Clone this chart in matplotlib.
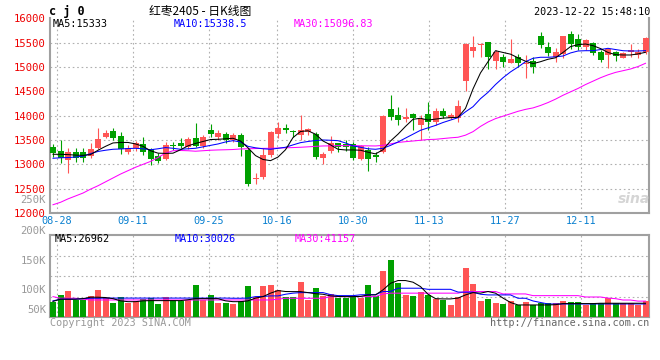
import matplotlib
matplotlib.use("Agg")
import matplotlib.pyplot as plt
import numpy as np

plt.rcParams["font.family"] = ["DejaVu Sans Mono"]

# x axis date labels and the candle index they belong to
date_labels = ["08-28", "09-11", "09-25", "10-16", "10-30", "11-13", "11-27", "12-11"]
date_idx = [1, 11, 21, 30, 40, 50, 60, 70]

# daily OHLC, 80 sessions (08-25 .. 12-22)
opens = [13351, 13281, 13090, 13248, 13248, 13178, 13343, 13563, 13692, 13590,
         13248, 13341, 13409, 13310, 13172, 13117, 13392, 13446, 13351, 13536,
         13384, 13707, 13557, 13624, 13501, 13604, 13296, 12689, 12735, 13193,
         13624, 13742, 13692, 13604, 13672, 13624, 13131, 13281, 13433, 13419,
         13419, 13104, 13296, 13193, 13261, 14138, 14015, 13926, 14035, 13809,
         14035, 13877, 14097, 13947, 13947, 14720, 15336, 15447, 15515, 15131,
         15213, 15090, 15201, 15053, 15131, 15638, 15418, 15201, 15268, 15673,
         15577, 15418, 15488, 15316, 15248, 15303, 15192, 15303, 15248, 15303]
highs = [13410, 13501, 13331, 13331, 13331, 13430, 13742, 13713, 13742, 13659,
         13398, 13490, 13553, 13337, 13228, 13466, 13466, 13536, 13569, 13857,
         13604, 13824, 13707, 13672, 13651, 13651, 13331, 12829, 13331, 13692,
         13877, 13830, 13713, 14015, 13754, 13659, 13261, 13583, 13446, 13501,
         13466, 13398, 13364, 13261, 14015, 14426, 14185, 14153, 14062, 14015,
         14288, 14153, 14153, 14049, 14323, 15488, 15638, 15490, 15515, 15350,
         15268, 15570, 15268, 15248, 15213, 15727, 15521, 15385, 15638, 15741,
         15673, 15577, 15521, 15350, 15385, 15330, 15316, 15468, 15371, 15624]
lows = [13150, 13022, 12829, 13055, 13043, 13125, 13306, 13536, 13491, 13203,
        13207, 13275, 13183, 12987, 13022, 13090, 13296, 13331, 13310, 13347,
        13331, 13557, 13501, 13446, 13460, 13172, 12556, 12597, 12693, 13158,
        13536, 13639, 13557, 13501, 13604, 13111, 13008, 13240, 13261, 13281,
        13090, 13090, 12870, 13055, 13228, 13912, 13809, 13877, 13707, 13501,
        13707, 13809, 13947, 13926, 13877, 14514, 15213, 15213, 14954, 14954,
        15007, 15077, 15007, 14769, 14872, 15385, 15227, 15110, 15180, 15371,
        15350, 15350, 15248, 15110, 14987, 15125, 15180, 15213, 15192, 15262]
closes = [13225, 13121, 13248, 13125, 13137, 13316, 13522, 13651, 13536, 13316,
          13343, 13438, 13244, 13104, 13076, 13398, 13372, 13378, 13522, 13378,
          13569, 13624, 13651, 13501, 13604, 13351, 12597, 12710, 13193, 13672,
          13754, 13713, 13659, 13707, 13727, 13158, 13213, 13433, 13364, 13351,
          13125, 13378, 13117, 13158, 13994, 13980, 13912, 13980, 13947, 13926,
          13877, 14103, 13994, 14015, 14200, 15474, 15406, 15474, 15201, 15316,
          15110, 15160, 15090, 15077, 15007, 15453, 15283, 15316, 15638, 15468,
          15418, 15550, 15283, 15145, 15371, 15233, 15283, 15350, 15303, 15603]

# price moving averages as drawn
ma5 = [13207, 13207, 13200, 13190, 13185, 13200, 13290, 13370, 13440, 13450,
       13450, 13420, 13370, 13280, 13230, 13225, 13230, 13300, 13380, 13430,
       13470, 13510, 13515, 13525, 13536, 13480, 13340, 13180, 13100, 13076,
       13150, 13300, 13550, 13675, 13690, 13620, 13480, 13400, 13310, 13296,
       13296, 13290, 13250, 13215, 13300, 13480, 13620, 13780, 13926, 13947,
       13910, 13930, 13950, 13960, 13968, 14150, 14550, 14880, 15110, 15336,
       15300, 15265, 15190, 15120, 15070, 15110, 15160, 15190, 15300, 15420,
       15460, 15474, 15440, 15380, 15300, 15255, 15248, 15248, 15270, 15303]
ma10 = [13125, 13135, 13140, 13150, 13170, 13220, 13265, 13290, 13310, 13316,
        13325, 13330, 13320, 13300, 13320, 13345, 13330, 13310, 13320, 13330,
        13360, 13390, 13419, 13460, 13487, 13460, 13370, 13340, 13320, 13310,
        13330, 13351, 13400, 13446, 13470, 13490, 13501, 13495, 13487, 13440,
        13380, 13351, 13320, 13310, 13330, 13390, 13460, 13540, 13620, 13700,
        13750, 13800, 13860, 13910, 13960, 14080, 14185, 14350, 14480, 14640,
        14780, 14900, 15000, 15110, 15180, 15201, 15201, 15210, 15227, 15290,
        15330, 15336, 15336, 15360, 15385, 15360, 15336, 15330, 15330, 15338]
ma30 = [12170, 12220, 12290, 12350, 12410, 12490, 12560, 12640, 12720, 12800,
        12870, 12940, 13000, 13060, 13140, 13230, 13280, 13285, 13280, 13270,
        13280, 13290, 13296, 13300, 13305, 13316, 13320, 13325, 13328, 13330,
        13335, 13340, 13345, 13351, 13360, 13370, 13378, 13380, 13385, 13385,
        13385, 13382, 13380, 13378, 13390, 13420, 13450, 13466, 13480, 13495,
        13510, 13515, 13530, 13545, 13557, 13600, 13672, 13780, 13870, 13940,
        13990, 14040, 14090, 14130, 14160, 14210, 14270, 14340, 14420, 14490,
        14560, 14640, 14710, 14780, 14840, 14890, 14925, 14960, 15010, 15077]

# volume in thousands
vols = [78, 91, 98, 81.6, 81.6, 89, 100, 84.8, 76.7, 86.6,
        76, 80, 83.5, 85, 75, 87, 80.7, 80, 81.6, 109,
        81.6, 91, 76, 76, 74, 80, 107, 87, 107, 109,
        100, 87, 87, 114.6, 81.6, 103.6, 89, 92, 85.8, 85.8,
        89, 85.8, 109, 89, 134.7, 154.8, 112, 90.8, 89, 96.3,
        90.8, 83.5, 81.6, 72.5, 87, 140, 111, 79.8, 83.5, 76,
        74.3, 79.8, 72.5, 78, 72.5, 76, 76, 76, 79.8, 78,
        78, 72.5, 76, 76, 85, 76, 76, 76, 72.5, 79.8]
vma5 = [79, 83, 83, 83, 84, 86.6, 86.6, 86, 84, 80,
        78.5, 78.5, 80, 80.4, 80.4, 80.4, 80.4, 80.4, 82, 84,
        84, 84, 84, 80, 78.5, 78.5, 80, 85, 87.7, 94,
        98.7, 97, 96.8, 96.8, 95, 93, 92, 89, 88, 87.7,
        87.7, 88, 90.8, 90.8, 100, 112, 117, 117, 114, 106,
        92, 84, 83.5, 83.5, 85, 90.8, 95, 94, 97, 94,
        85, 77, 72.5, 72.5, 72.5, 72.5, 72.5, 73, 75, 75,
        75, 75, 75, 75.6, 75.6, 75.6, 75.6, 75.6, 75.6, 75.6]
vma10 = [80, 83, 83, 83, 84, 84.7, 84.7, 85, 85, 85,
         85, 85, 85, 85, 85, 85, 85, 85, 85, 85,
         85, 85, 85, 85, 84.7, 84.7, 85, 87.7, 88, 89,
         89, 92, 94, 95, 95, 95, 95, 91.3, 89.5, 89.5,
         89.5, 91, 91.3, 91.3, 97, 97, 103, 103, 103, 103,
         101, 101, 101, 101, 96, 95.7, 95.7, 92, 90.8, 90.8,
         90.8, 90.8, 84.7, 84.7, 79.8, 77, 74.3, 74.3, 74.3, 74.3,
         74.3, 74.3, 74.3, 74.3, 74.3, 74.3, 74.3, 74.3, 74.3, 74.3]
vma30 = [87.7, 84.7, 84.7, 84.7, 83, 81.6, 81.6, 81.6, 81.6, 81.6,
         81.6, 81.6, 81.6, 81.6, 81.6, 81.6, 81.6, 81.6, 81.6, 81.6,
         81.6, 81.6, 81.6, 81.6, 81.6, 81.6, 81.6, 81.6, 81.6, 81.6,
         83, 84.7, 84.7, 84.7, 84.7, 84.7, 84.7, 87.7, 87.7, 87.7,
         87.7, 87.7, 87.7, 87.7, 92.6, 94, 94, 94, 94, 94,
         94, 94, 94, 94, 94, 97, 97, 97, 97, 97,
         92.6, 92.6, 92.6, 92.6, 89.5, 89.5, 89.5, 89.5, 89.5, 89.5,
         89.5, 87, 87, 87, 85, 84, 81.5, 81.5, 79.5, 79.5]

RED = "#ff5555"
GREEN = "#00a000"
GRID = "#b0b0b0"
BORDER = "#a0a0a0"
BLUE_TXT = "#0a80d0"
GREY_TXT = "#999999"

W, H = 660, 360


def fx(px):
    return px / W


def fy(py):
    return 1 - py / H


fig = plt.figure(figsize=(6.6, 3.6), dpi=100)
ax = fig.add_axes([fx(50), fy(213), (649 - 50) / W, (213 - 18.4) / H])
axv = fig.add_axes([fx(50), fy(317.3), (649 - 50) / W, (317.3 - 235) / H])

x = np.arange(len(closes))
o = np.array(opens)
c = np.array(closes)
up = c >= o
colors = np.where(up, RED, GREEN)
xmax = -0.4 + 599 / 7.5
grid_x = [i * 7.6 / 7.5 - 0.5 for i in date_idx]
dots = (0, (1.5, 2.5))

# price panel
for yv in range(12500, 16000, 500):
    ax.axhline(yv, color=GRID, lw=0.8, ls=dots, zorder=1)
for gx in grid_x:
    ax.axvline(gx, color=GRID, lw=0.8, ls=dots, zorder=1)

ax.vlines(x, lows, highs, colors=colors, lw=0.8, zorder=3)
ax.bar(x, np.maximum(np.abs(c - o), 14), 0.8, bottom=np.minimum(o, c),
       color=colors, zorder=4)
ax.plot(x, ma30, color="#ff00ff", lw=0.75, zorder=5)
ax.plot(x, ma10, color="#0000ff", lw=0.75, zorder=5)
ax.plot(x, ma5, color="black", lw=0.75, zorder=6)

ax.set_xlim(-0.4, xmax)
ax.set_ylim(12000, 16000)
ax.set_yticks(range(12000, 16001, 500))
ax.set_yticklabels([str(v) for v in range(12000, 16001, 500)])
ax.tick_params(axis="y", length=0, pad=3, labelcolor="#ee0000", labelsize=7.6)
ax.set_xticks(grid_x)
ax.set_xticklabels(date_labels)
ax.tick_params(axis="x", length=0, pad=2.5, labelcolor=BLUE_TXT, labelsize=7.4)
ax.spines["top"].set_visible(False)
for s in ["left", "bottom", "right"]:
    ax.spines[s].set_color(BORDER)
    ax.spines[s].set_linewidth(1.5)

# volume panel
for yv in [87.5, 125, 162.5]:
    axv.axhline(yv, color=GRID, lw=0.8, ls=dots, zorder=1)
for gx in grid_x:
    axv.axvline(gx, color=GRID, lw=0.8, ls=dots, zorder=1)
axv.bar(x, vols, 0.8, color=colors, zorder=3)
axv.plot(x, vma30, color="#ff00ff", lw=0.75, zorder=4)
axv.plot(x, vma10, color="#0000ff", lw=0.75, zorder=4)
axv.plot(x, vma5, color="black", lw=0.75, zorder=5)
axv.set_xlim(-0.4, xmax)
axv.set_ylim(50, 200)
axv.set_xticks([])
axv.set_yticks([])
for s in axv.spines.values():
    s.set_color(BORDER)
    s.set_linewidth(1.5)

for lab, py in [("200K", 231), ("150K", 261), ("100K", 290), ("50K", 310)]:
    fig.text(fx(46), fy(py), lab, ha="right", va="center", color=GREY_TXT, fontsize=7.6)
fig.text(fx(46), fy(200), "250K", ha="right", va="center", color=GREY_TXT, fontsize=7.6)

# header
fig.text(fx(49), fy(11.5), "c j 0", ha="left", va="center", fontsize=8.5,
         weight="bold")
fig.text(fx(200), fy(11.5), "红枣2405 - 日K线图", ha="center", va="center",
         fontsize=8.5, family=["Noto Sans CJK SC", "DejaVu Sans"])
fig.text(fx(650), fy(12), "2023-12-22 15:48:10", ha="right", va="center",
         fontsize=7.3)

# MA legends
for txt, px, col in [("MA5:15333", 53, "black"), ("MA10:15338.5", 173.5, "#0000ff"),
                     ("MA30:15096.83", 294, "#ff00ff")]:
    fig.text(fx(px), fy(24), txt, ha="left", va="center", color=col, fontsize=7.3)
for txt, px, col in [("MA5:26962", 55, "black"), ("MA10:30026", 175, "#0000ff"),
                     ("MA30:41157", 295, "#ff00ff")]:
    fig.text(fx(px), fy(238.5), txt, ha="left", va="center", color=col, fontsize=7.3)

fig.text(fx(50), fy(323.5), "Copyright 2023 SINA.COM", ha="left", va="center",
         color=GREY_TXT, fontsize=7.3)
fig.text(fx(649), fy(323.5), "http://finance.sina.com.cn", ha="right", va="center",
         color="#666666", fontsize=7.3)
fig.text(fx(634), fy(199), "sina", ha="center", va="center", color="#d5d5d5",
         fontsize=10, weight="bold", style="italic", family="DejaVu Sans")

fig.savefig("out.png", dpi=100)
